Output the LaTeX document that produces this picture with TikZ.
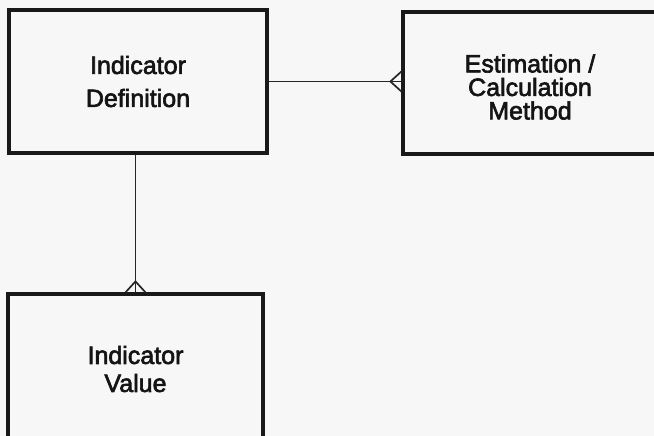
\documentclass[tikz,border=0pt]{standalone}
\usepackage{fontspec}
\setmainfont{Liberation Sans}
\newfontface\heavyface{Liberation Sans}[FakeBold=2.5]
\usetikzlibrary{calc}
\begin{document}
\begin{tikzpicture}[x=1pt,y=-1pt,
  box/.style={draw=black!90, line width=3.2pt, rectangle, inner sep=0pt, align=center, text=black!92},
  lbl/.style={align=center, text=black!92, inner sep=0pt},
  conn/.style={line width=1.7pt, draw=black!85}]
\fill[gray!6] (0,0) rectangle (654,436);
\useasboundingbox (0,0) rectangle (654,436);
\clip (0,0) rectangle (654,436);
\node[box, minimum width=258pt, minimum height=143pt, font=\heavyface\fontsize{25}{33}\selectfont] (def) at (138,81.5) {Indicator\\Definition};
\node[box, minimum width=257pt, minimum height=142pt] (est) at (531.5,83) {};
\node[lbl, font=\heavyface\fontsize{25}{23.5}\selectfont] (estlbl) at ($(est.center)+(-1.5,4)$) {Estimation /\\Calculation\\Method};
\node[box, minimum width=255pt, minimum height=150pt, font=\heavyface\fontsize{25}{28}\selectfont] (val) at (135.5,369) {Indicator\\Value};
% horizontal connector with crow's foot at est
\coordinate (hend) at (def.east -| est.west);
\draw[conn] (def.east) -- (hend);
\draw[conn] ($(hend)+(0,-10)$) -- ($(hend)+(-11,0)$) -- ($(hend)+(0,10)$);
% vertical connector with crow's foot at val
\coordinate (vstart) at (val.north |- def.south);
\draw[conn] (vstart) -- (val.north);
\draw[conn] ($(val.north)+(-10,0)$) -- ($(val.north)+(0,-11)$) -- ($(val.north)+(10,0)$);
\end{tikzpicture}
\end{document}
